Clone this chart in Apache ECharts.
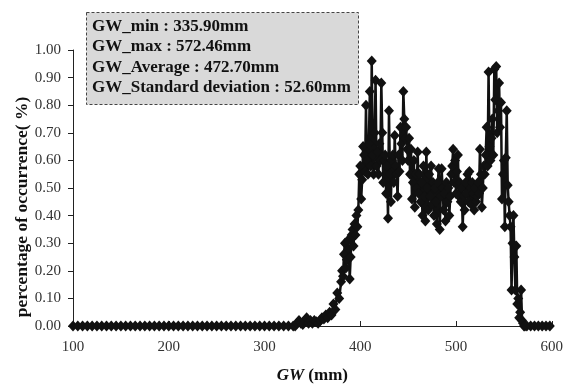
<!DOCTYPE html>
<html>
<head>
<meta charset="utf-8">
<script src="https://cdn.jsdelivr.net/npm/echarts@6/dist/echarts.min.js"></script>
<style>
  html, body { margin: 0; padding: 0; background: #fff; }
  #chart { width: 566px; height: 389px; }
</style>
</head>
<body>
<div id="chart"></div>
<script>
// GW (mm) sample positions
const gwValues = [
  100, 105, 110, 115, 120, 125, 130, 135, 140, 145, 150, 155, 160, 165, 170, 175,
  180, 185, 190, 195, 200, 205, 210, 215, 220, 225, 230, 235, 240, 245, 250, 255,
  260, 265, 270, 275, 280, 285, 290, 295, 300, 305, 310, 315, 320, 325,
  330, 332, 334, 336, 338, 340, 342, 344, 346, 348, 350, 352, 354, 356, 358, 360,
  362, 364, 366, 368, 370, 372, 374, 376, 378,
  380, 381, 382, 383, 384, 385, 386, 387, 388, 389, 390, 391, 392, 393, 394, 395,
  396, 397, 398, 399, 400, 401, 402, 403, 404, 405, 406, 407, 408, 409, 410, 411,
  412, 413, 414, 415, 416, 417, 418, 419, 420, 421, 422, 423, 424, 425, 426, 427,
  428, 429, 430, 431, 432, 433, 434, 435, 436, 437, 438, 439, 440, 441, 442, 443,
  444, 445, 446, 447, 448, 449, 450, 451, 452, 453, 454, 455, 456, 457, 458, 459,
  460, 461, 462, 463, 464, 465, 466, 467, 468, 469, 470, 471, 472, 473, 474, 475,
  476, 477, 478, 479, 480, 481, 482, 483, 484, 485, 486, 487, 488, 489, 490, 491,
  492, 493, 494, 495, 496, 497, 498, 499, 500, 501, 502, 503, 504, 505, 506, 507,
  508, 509, 510, 511, 512, 513, 514, 515, 516, 517, 518, 519, 520, 521, 522, 523,
  524, 525, 526, 527, 528, 529, 530, 531, 532, 533, 534, 535, 536, 537, 538, 539,
  540, 541, 542, 543, 544, 545, 546, 547, 548, 549, 550, 551, 552, 553, 554, 555,
  556, 557, 558, 559, 560, 561, 562, 563, 564, 565, 566, 567, 568, 569, 570, 571,
  572, 574, 578, 582, 586, 590, 594, 598
];

// percentage of occurrence (%) at each position
const occurrence = [
  0, 0, 0, 0, 0, 0, 0, 0, 0, 0, 0, 0, 0, 0, 0, 0,
  0, 0, 0, 0, 0, 0, 0, 0, 0, 0, 0, 0, 0, 0, 0, 0,
  0, 0, 0, 0, 0, 0, 0, 0, 0, 0, 0, 0, 0, 0,
  0, 0, 0.01, 0.02, 0.01, 0.005, 0.02, 0.03, 0.01, 0.02, 0.01, 0.02, 0.015, 0.01, 0.02, 0.03,
  0.025, 0.04, 0.03, 0.05, 0.04, 0.08, 0.06, 0.12, 0.10,
  0.16, 0.20, 0.18, 0.26, 0.30, 0.21, 0.24, 0.31, 0.28, 0.17, 0.25, 0.33, 0.35, 0.29, 0.37, 0.33,
  0.40, 0.36, 0.42, 0.55, 0.58, 0.46, 0.53, 0.65, 0.62, 0.56, 0.80, 0.60, 0.55, 0.66, 0.85, 0.58,
  0.96, 0.62, 0.55, 0.70, 0.89, 0.58, 0.63, 0.55, 0.66, 0.60, 0.88, 0.70, 0.52, 0.60, 0.62, 0.48,
  0.58, 0.39, 0.78, 0.55, 0.45, 0.60, 0.62, 0.52, 0.69, 0.58, 0.55, 0.47, 0.62, 0.56, 0.72, 0.66,
  0.60, 0.85, 0.75, 0.68, 0.72, 0.64, 0.60, 0.68, 0.55, 0.64, 0.46, 0.52, 0.60, 0.43, 0.55, 0.50,
  0.63, 0.48, 0.55, 0.45, 0.52, 0.40, 0.58, 0.47, 0.38, 0.63, 0.50, 0.42, 0.55, 0.47, 0.58, 0.44,
  0.52, 0.40, 0.50, 0.45, 0.37, 0.52, 0.57, 0.35, 0.47, 0.57, 0.50, 0.42, 0.48, 0.38, 0.52, 0.45,
  0.50, 0.40, 0.47, 0.55, 0.58, 0.64, 0.52, 0.60, 0.48, 0.56, 0.62, 0.47, 0.52, 0.45, 0.50, 0.36,
  0.47, 0.42, 0.52, 0.48, 0.55, 0.45, 0.56, 0.50, 0.44, 0.52, 0.48, 0.42, 0.50, 0.45, 0.47, 0.52,
  0.48, 0.64, 0.55, 0.43, 0.50, 0.58, 0.55, 0.62, 0.72, 0.58, 0.92, 0.65, 0.60, 0.68, 0.75, 0.62,
  0.93, 0.82, 0.94, 0.70, 0.78, 0.88, 0.72, 0.81, 0.46, 0.55, 0.60, 0.36, 0.61, 0.78, 0.51, 0.45,
  0.40, 0.36, 0.13, 0.30, 0.40, 0.25, 0.13, 0.29, 0.08, 0.10, 0.03, 0.05, 0.13, 0.02, 0.01, 0,
  0, 0, 0, 0, 0, 0, 0, 0
];

const xTicks = [100, 200, 300, 400, 500, 600];
const yTicks = [0, 0.1, 0.2, 0.3, 0.4, 0.5, 0.6, 0.7, 0.8, 0.9, 1.0];

const statLines = [
  'GW_min : 335.90mm',
  'GW_max : 572.46mm',
  'GW_Average : 472.70mm',
  'GW_Standard deviation : 52.60mm'
];

const serif = "'Liberation Serif', 'Times New Roman', serif";

const chart = echarts.init(document.getElementById('chart'), null, { renderer: 'canvas' });

const statTexts = statLines.map((s, i) => ({
  type: 'text',
  left: 92,
  top: 18 + i * 20.5,
  z: 20,
  style: { text: s, font: 'bold 17px ' + serif, fill: '#111' }
}));

chart.setOption({
  animation: false,
  backgroundColor: '#fff',
  grid: { left: 73, right: 14, top: 50, bottom: 54, containLabel: false },
  xAxis: {
    type: 'value',
    min: xTicks[0],
    max: xTicks[xTicks.length - 1],
    interval: 100,
    name: '{i|GW}{b| (mm)}',
    nameLocation: 'middle',
    nameGap: 41,
    nameTextStyle: {
      rich: {
        i: { fontFamily: serif, fontWeight: 'bold', fontStyle: 'italic', fontSize: 17, color: '#111' },
        b: { fontFamily: serif, fontWeight: 'bold', fontSize: 17, color: '#111' }
      }
    },
    axisLine: { lineStyle: { color: '#222', width: 1 } },
    axisTick: { inside: true, length: 5, lineStyle: { color: '#222' } },
    axisLabel: { fontFamily: serif, fontSize: 15, color: '#333', margin: 14 },
    splitLine: { show: false }
  },
  yAxis: {
    type: 'value',
    min: yTicks[0],
    max: yTicks[yTicks.length - 1],
    interval: 0.1,
    axisLine: { show: true, lineStyle: { color: '#222', width: 1 } },
    axisTick: { show: true, inside: false, length: 5, lineStyle: { color: '#222' } },
    axisLabel: { fontFamily: serif, fontSize: 15, color: '#333', margin: 12,
      formatter: v => v.toFixed(2) },
    splitLine: { show: false }
  },
  series: [{
    type: 'line',
    data: gwValues.map((g, i) => [g, occurrence[i]]),
    symbol: 'diamond',
    symbolSize: [10, 11],
    showAllSymbol: true,
    itemStyle: { color: '#111', borderWidth: 0 },
    lineStyle: { color: '#111', width: 2.5 },
    z: 5
  }],
  graphic: [
    {
      type: 'rect',
      left: 86,
      top: 12,
      z: 10,
      shape: { width: 272, height: 92 },
      style: { fill: '#d9d9d9', stroke: '#444', lineWidth: 1, lineDash: [3, 2] }
    },
    {
      type: 'text',
      x: 22,
      y: 207,
      rotation: Math.PI / 2,
      z: 20,
      style: {
        text: 'percentage of occurrence( %)',
        font: 'bold 17.5px ' + serif,
        fill: '#111',
        textAlign: 'center',
        textVerticalAlign: 'middle'
      }
    }
  ].concat(statTexts)
});
</script>
</body>
</html>
